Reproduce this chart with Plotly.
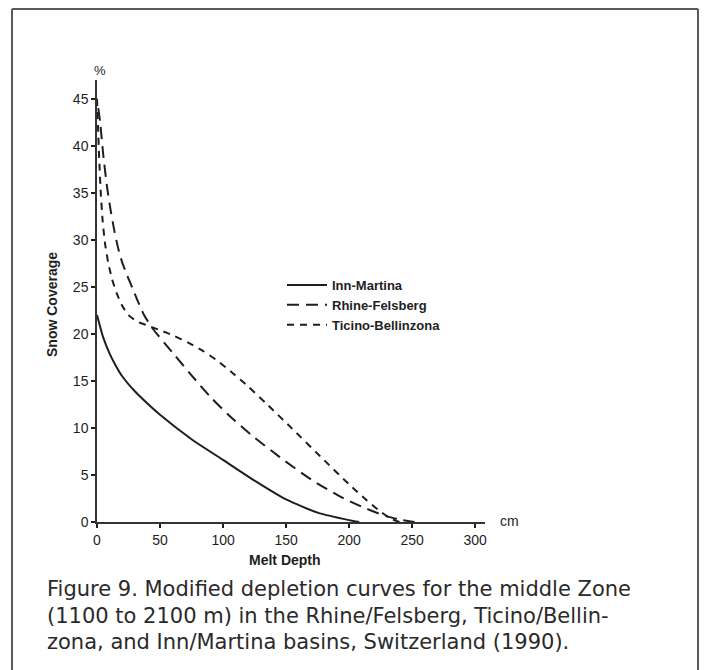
import plotly.graph_objects as go

# Data (melt depth in cm, snow coverage in %)
inn_x = [0, 2, 5, 10, 15, 20, 30, 40, 50, 75, 100, 125, 150, 175, 200, 208]
inn_y = [22.0, 21.0, 19.6, 17.9, 16.6, 15.5, 13.9, 12.6, 11.4, 8.8, 6.6, 4.4, 2.4, 1.0, 0.2, 0.0]

rhine_x = [1, 2.5, 5, 8, 11, 14, 17, 20, 24, 28, 32, 37, 44, 60, 75, 90, 105, 122, 145, 170, 193, 214, 230, 242, 252]
rhine_y = [44.0, 42.5, 39.0, 35.6, 33.0, 30.8, 29.0, 27.6, 26.2, 24.9, 23.6, 22.1, 20.6, 18.0, 15.6, 13.3, 11.3, 9.3, 6.9, 4.5, 2.7, 1.4, 0.6, 0.2, 0.0]

ticino_x = [0, 0.8, 1.8, 3, 4.5, 6.5, 9, 12, 16, 20, 25, 32, 40, 50, 61, 72, 84, 96, 108, 120, 135, 155, 180, 200, 214, 226, 234, 240]
ticino_y = [45.0, 42.0, 38.5, 35.0, 32.0, 29.5, 27.5, 25.8, 24.2, 23.0, 22.0, 21.3, 20.9, 20.4, 19.8, 19.1, 18.2, 17.1, 15.8, 14.4, 12.5, 9.9, 6.6, 4.0, 2.3, 1.0, 0.3, 0.0]

x_ticks = [0, 50, 100, 150, 200, 250, 300]
y_ticks = [0, 5, 10, 15, 20, 25, 30, 35, 40, 45]

caption_lines = [
    "Figure 9. Modified depletion curves for the middle Zone",
    "(1100 to 2100 m) in the Rhine/Felsberg, Ticino/Bellin-",
    "zona, and Inn/Martina basins, Switzerland (1990).",
]

ink = "#1e1e1e"
SANS = "Liberation Sans, Arial, sans-serif"

fig = go.Figure()
fig.add_trace(go.Scatter(x=inn_x, y=inn_y, mode="lines", name="Inn-Martina",
                         line=dict(color=ink, width=2, shape="spline", smoothing=0.6)))
fig.add_trace(go.Scatter(x=rhine_x, y=rhine_y, mode="lines", name="Rhine-Felsberg",
                         line=dict(color=ink, width=2, dash="12px,7px", shape="spline", smoothing=0.6)))
fig.add_trace(go.Scatter(x=ticino_x, y=ticino_y, mode="lines", name="Ticino-Bellinzona",
                         line=dict(color=ink, width=2, dash="7px,6px", shape="spline", smoothing=0.6)))

# page has an 8px body margin, so the figure is drawn 8px smaller
W, H = 702, 662
L, R, T, B = 89, 225, 72, 148
pw, ph = W - L - R, H - T - B
OFF = 8

def px_x(px):  # page pixel -> paper x
    return (px - OFF - L) / pw

def px_y(py):  # page pixel -> paper y
    return (H - B - (py - OFF)) / ph

tickfont = dict(family=SANS, size=14, color=ink)
fig.update_layout(
    width=W, height=H,
    margin=dict(l=L, r=R, t=T, b=B, autoexpand=False),
    paper_bgcolor="white", plot_bgcolor="white",
    showlegend=True,
    legend=dict(x=px_x(282), y=px_y(270), xanchor="left", yanchor="top",
                bgcolor="rgba(0,0,0,0)", font=dict(family=SANS, size=13, color=ink, weight="bold"),
                tracegroupgap=0, itemwidth=40),
    xaxis=dict(range=[0, 307.8], tickvals=x_ticks, ticks="outside", ticklen=4, tickwidth=1.5,
               tickcolor=ink, showline=True, linecolor="#333", linewidth=1.5, showgrid=False,
               zeroline=False, tickfont=tickfont),
    yaxis=dict(range=[0, 47], tickvals=y_ticks, ticks="outside", ticklen=4, tickwidth=1.5,
               tickcolor=ink, showline=True, linecolor="#333", linewidth=1.5, showgrid=False,
               zeroline=False, tickfont=tickfont),
)

def label(text, x, y, size=14, angle=0, family=SANS, color=ink, xanchor="center"):
    return dict(text=text, textangle=angle, xref="paper", yref="paper",
                x=px_x(x), y=px_y(y), xanchor=xanchor, yanchor="middle", showarrow=False,
                font=dict(family=family, size=size, color=color))

ann = [
    label("<b>Snow Coverage</b>", 52, 305, angle=-90),
    label("<b>Melt Depth</b>", 285, 560),
    label("cm", 509, 521),
    label("%", 100, 70, size=13),
]
for i, line in enumerate(caption_lines):
    ann.append(label(line, 45, 589 + 26.5 * i, size=21, family="DejaVu Sans, sans-serif",
                     color="#2a2a2a", xanchor="left"))
fig.update_layout(annotations=ann)

# frame around the figure
frame = dict(type="line", xref="paper", yref="paper", line=dict(color="#5a5a5a", width=2))
fig.add_shape(**frame, x0=px_x(12), x1=px_x(12), y0=px_y(9), y1=px_y(675))
fig.add_shape(**frame, x0=px_x(12), x1=px_x(698), y0=px_y(9), y1=px_y(9))
fig.add_shape(**frame, x0=px_x(698), x1=px_x(698), y0=px_y(9), y1=px_y(675))

fig.write_html("out.html")
